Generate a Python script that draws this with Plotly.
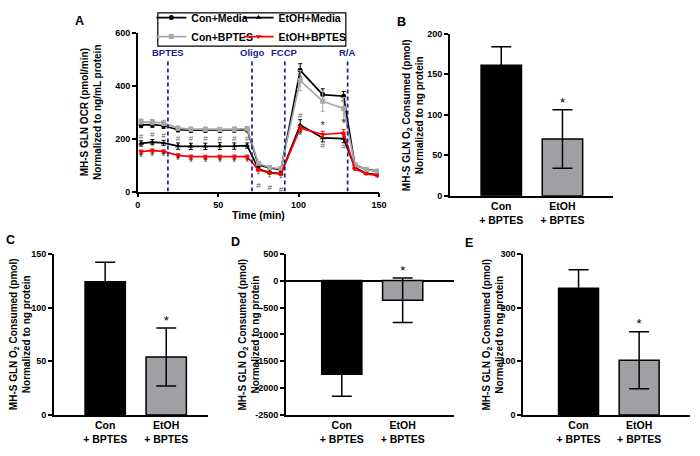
import plotly.graph_objects as go

# ---- panel A: Seahorse OCR time course ----
time_min = [2, 9, 16, 25, 33, 42, 51, 60, 68, 75, 82, 89, 101, 115, 128, 135, 142, 149]

con_media = [252, 253, 249, 234, 232, 232, 232, 233, 234, 101, 89, 83, 459, 367, 361, 101, 84, 77]
con_media_err = [10, 10, 10, 8, 8, 8, 8, 8, 8, 6, 5, 5, 25, 22, 18, 6, 5, 5]

etoh_media = [182, 187, 184, 172, 171, 171, 172, 172, 174, 85, 72, 68, 252, 203, 200, 91, 69, 64]
etoh_media_err = [10, 10, 10, 12, 12, 12, 13, 12, 10, 6, 5, 5, 20, 15, 15, 6, 5, 5]

con_bptes = [265, 263, 260, 240, 236, 236, 235, 236, 238, 107, 91, 87, 420, 342, 314, 102, 83, 77]
con_bptes_err = [10, 10, 10, 8, 8, 8, 8, 8, 8, 6, 5, 5, 38, 38, 42, 6, 5, 5]

etoh_bptes = [151, 155, 152, 137, 132, 131, 132, 132, 132, 82, 70, 66, 240, 216, 222, 86, 68, 60]
etoh_bptes_err = [6, 6, 6, 6, 6, 6, 6, 6, 6, 5, 4, 4, 12, 12, 12, 5, 4, 4]

injection_times = [18.7, 71, 91.4, 130.5]
injection_labels = ["BPTES", "Oligo", "FCCP", "R/A"]

# significance marks (indices into time_min)
hash_above_etoh_media = [0, 1, 2, 3, 4, 5, 6, 7, 8, 12]
star_below_etoh_bptes = [0, 1, 2, 3, 4, 5, 6, 7, 8, 12]
star_hash_below_etoh_bptes = [9, 10, 11]
star_above_etoh_bptes = [13, 14]
hash_below_etoh_media = [13, 14]

# ---- panels B-E: O2 consumed bars ----
bar_groups = ["Con<br>+ BPTES", "EtOH<br>+ BPTES"]
b_vals = [161, 70]
b_err = [23, 36]
c_vals = [124, 54]
c_err = [18, 27]
d_vals = [-1740, -365]
d_err = [410, 412]
e_vals = [236, 102]
e_err = [34, 53]

d_tickvals = [500, 0, -500, -1000, -1500, -2000, -2500]
d_ticktext = ["500", "0", "-500", "-1000", "-1500", "-2000", "-2500"]

FONT = "Arial, Liberation Sans, sans-serif"
NAVY = "#1c1c8f"
GRAY = "#a8a8a8"
BAR_GRAY = "#a0a0a4"
W, H = 700, 456


def px_x(p):
    return p / W


def px_y(p):
    return 1 - p / H


fig = go.Figure()

series = [
    ("Con+Media", con_media, con_media_err, "black", "circle", "legend"),
    ("EtOH+Media", etoh_media, etoh_media_err, "black", "triangle-up", "legend2"),
    ("Con+BPTES", con_bptes, con_bptes_err, GRAY, "square", "legend"),
    ("EtOH+BPTES", etoh_bptes, etoh_bptes_err, "#ff0000", "triangle-down", "legend2"),
]
for name, vals, err, col, sym, leg in series:
    fig.add_trace(go.Scatter(
        x=time_min, y=vals, name=name, mode="lines+markers",
        line=dict(color=col, width=1.7),
        marker=dict(color=col, symbol=sym, size=5),
        error_y=dict(type="data", array=err, color=col, thickness=1, width=2),
        legend=leg, xaxis="x", yaxis="y",
    ))


def sig_trace(idx, vals, err, sign, text, pos, color, size):
    return go.Scatter(
        x=[time_min[i] for i in idx],
        y=[vals[i] + sign * err[i] for i in idx],
        mode="text", text=[text] * len(idx), textposition=pos,
        textfont=dict(family=FONT, size=size, color=color),
        showlegend=False, hoverinfo="skip", cliponaxis=False,
        xaxis="x", yaxis="y",
    )


fig.add_trace(sig_trace(hash_above_etoh_media, etoh_media, etoh_media_err, 1, "#", "top center", "#666", 8))
fig.add_trace(sig_trace(star_below_etoh_bptes, etoh_bptes, etoh_bptes_err, -1, "*", "bottom center", "#222", 10))
fig.add_trace(sig_trace(star_hash_below_etoh_bptes, etoh_bptes, etoh_bptes_err, -1, "*<br>#", "bottom center", "#555", 8))
fig.add_trace(sig_trace(star_above_etoh_bptes, etoh_bptes, etoh_bptes_err, 1, "*", "top center", "#222", 10))
fig.add_trace(sig_trace(hash_below_etoh_media, etoh_media, etoh_media_err, -1, "#", "bottom center", "#666", 8))

for t, lab in zip(injection_times, injection_labels):
    fig.add_shape(type="line", xref="x", yref="y", x0=t, x1=t, y0=0, y1=495,
                  line=dict(color=NAVY, width=1.7, dash="4px,3px"), layer="above")
    fig.add_annotation(xref="x", yref="y", x=t, y=528, text=lab, showarrow=False,
                       font=dict(family=FONT, size=9.5, color=NAVY, weight="bold"))

# ---- bars ----
bar_panels = [
    ("x2", "y2", b_vals, b_err),
    ("x3", "y3", c_vals, c_err),
    ("x4", "y4", d_vals, d_err),
    ("x5", "y5", e_vals, e_err),
]
for xa, ya, vals, err in bar_panels:
    fig.add_trace(go.Bar(
        x=bar_groups, y=vals, width=0.66,
        marker=dict(color=["black", BAR_GRAY], line=dict(color="black", width=1.5)),
        error_y=dict(type="data", array=err, color="black", thickness=1.5, width=10),
        showlegend=False, xaxis=xa, yaxis=ya,
    ))
    fig.add_trace(go.Scatter(
        x=[bar_groups[1]], y=[vals[1] + err[1]], mode="text", text=["*"],
        textposition="top center",
        textfont=dict(family=FONT, size=13, color="black"),
        showlegend=False, hoverinfo="skip", cliponaxis=False, xaxis=xa, yaxis=ya,
    ))

tick_font = dict(family=FONT, size=9, color="black", weight="bold")
axis_common = dict(showline=True, linecolor="black", linewidth=1.5, ticks="outside",
                   ticklen=4, tickwidth=1.5, tickcolor="black", showgrid=False,
                   zeroline=False, tickfont=tick_font)
cat_axis = dict(showline=True, linecolor="black", linewidth=1.5, ticks="", showgrid=False,
                zeroline=False, type="category",
                tickfont=dict(family=FONT, size=10.5, color="black", weight="bold"))

fig.update_layout(
    width=W, height=H, margin=dict(l=0, r=0, t=0, b=0),
    paper_bgcolor="white", plot_bgcolor="white",
    font=dict(family=FONT, color="black"),
    xaxis=dict(axis_common, domain=[px_x(137), px_x(382)], range=[0, 150],
               tickvals=[0, 50, 100, 150], anchor="y",
               title=dict(text="Time (min)", standoff=3,
                          font=dict(family=FONT, size=10.5, weight="bold"))),
    yaxis=dict(axis_common, domain=[px_y(190.7), px_y(28.7)], range=[0, 600],
               tickvals=[0, 200, 400, 600], anchor="x"),
    xaxis2=dict(cat_axis, domain=[px_x(454), px_x(620)], range=[-0.84, 1.83], anchor="y2"),
    yaxis2=dict(axis_common, domain=[px_y(195), px_y(29.3)], range=[0, 200], dtick=50, anchor="x2"),
    xaxis3=dict(cat_axis, domain=[px_x(51.7), px_x(208)], range=[-0.84, 1.68], anchor="y3"),
    yaxis3=dict(axis_common, domain=[px_y(419.3), px_y(254.3)], range=[0, 150], dtick=50, anchor="x3"),
    xaxis4=dict(cat_axis, domain=[px_x(287.3), px_x(458)], range=[-0.92, 1.84], anchor="y4"),
    yaxis4=dict(axis_common, domain=[px_y(419.3), px_y(254.3)], range=[-2500, 500],
                tickvals=d_tickvals, ticktext=d_ticktext, anchor="x4",
                zeroline=True, zerolinecolor="black", zerolinewidth=1.5),
    xaxis5=dict(cat_axis, domain=[px_x(528.3), px_x(698)], range=[-0.917, 1.84], anchor="y5"),
    yaxis5=dict(axis_common, domain=[px_y(419.3), px_y(254.3)], range=[0, 300], dtick=100, anchor="x5"),
    legend=dict(x=px_x(150.7), y=px_y(-2), xanchor="left", yanchor="top",
                bgcolor="rgba(0,0,0,0)", font=dict(family=FONT, size=10.5, weight="bold"),
                tracegroupgap=0),
    legend2=dict(x=px_x(239.3), y=px_y(-2), xanchor="left", yanchor="top",
                 bgcolor="rgba(0,0,0,0)", font=dict(family=FONT, size=10.5, weight="bold"),
                 tracegroupgap=0),
    showlegend=True,
)

# legend frame
fig.add_shape(type="rect", xref="paper", yref="paper",
              x0=px_x(157.3), x1=px_x(348.3), y0=px_y(42), y1=px_y(8),
              line=dict(color="black", width=1.2), fillcolor="rgba(0,0,0,0)")

# y-axis titles
bar_title = "MH-S GLN O<sub>2</sub> Consumed (pmol)<br>Normalized to ng protein"
y_titles = [
    ("MH-S GLN OCR (pmol/min)<br>Normalized to ng/mL protein", 90, (190.7 + 28.7) / 2),
    (bar_title, 416, (195 + 29.3) / 2),
    (bar_title, 18, (419.3 + 254.3) / 2),
    (bar_title, 250, (419.3 + 254.3) / 2),
    (bar_title, 498, (419.3 + 254.3) / 2),
]
for txt, xp, yp in y_titles:
    fig.add_annotation(xref="paper", yref="paper", x=px_x(xp), y=px_y(yp), text=txt,
                       textangle=-90, showarrow=False, xanchor="center", yanchor="middle",
                       font=dict(family=FONT, size=10, color="black", weight="bold"))

panel_letters = [("A", 78, 16), ("B", 405, 17), ("C", 8, 240), ("D", 236, 242), ("E", 473, 243)]
for lab, xp, yp in panel_letters:
    fig.add_annotation(xref="paper", yref="paper", x=px_x(xp), y=px_y(yp), text=lab,
                       showarrow=False, xanchor="center", yanchor="middle",
                       font=dict(family=FONT, size=12.5, color="black", weight="bold"))

# the page's default body margin would push the 700x456 figure past the window
fig.write_html("out.html", config={"displayModeBar": False},
               post_script="document.body.style.margin='0px';")
